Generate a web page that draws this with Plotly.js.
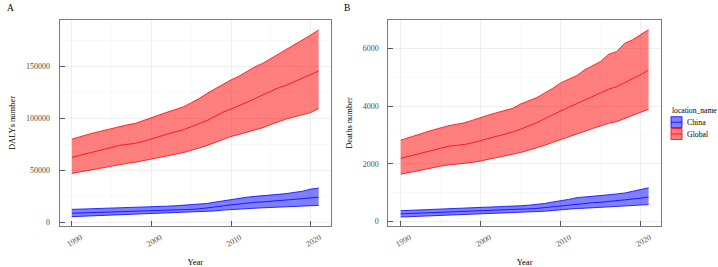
<!DOCTYPE html>
<html><head><meta charset="utf-8">
<script src="https://cdn.plot.ly/plotly-3.0.1.min.js"></script>
<style>body{margin:0;padding:0;background:#fff}#chart{width:718px;height:267px}</style>
</head><body><div id="chart"></div>
<script>
const years = [1990,1991,1992,1993,1994,1995,1996,1997,1998,1999,2000,2001,2002,2003,2004,2005,2006,2007,2008,2009,2010,2011,2012,2013,2014,2015,2016,2017,2018,2019,2020,2021];

// DALYs (panel A)
const globalDalyUpper = [80000,82500,84500,86500,88500,90500,92500,93800,95200,98000,101000,103500,106000,108500,111000,115000,119000,124000,128500,133000,137000,140500,145000,149500,153000,157500,162000,166000,170500,175500,180000,185000];
const globalDalyMean  = [62500,64500,66500,68500,70500,72500,74000,75000,76000,78000,80000,82500,85000,87000,89000,92000,95000,98000,102000,106000,109000,112000,115500,119000,122500,126000,129500,132000,135500,139000,142000,145500];
const globalDalyLower = [47000,48500,50000,51500,53000,54500,55800,56800,57800,59200,60800,62500,64000,65500,67000,69000,71500,74000,77000,80000,82500,84500,86500,88500,91000,94000,97000,99500,101500,103500,105500,109500];
const chinaDalyUpper  = [12500,12700,13000,13200,13400,13700,14000,14200,14500,14800,15100,15300,15600,16000,16500,17000,17500,18200,19500,20800,22000,23000,24200,25000,25500,26200,27000,27800,28800,30000,32000,33000];
const chinaDalyMean   = [8800,9000,9200,9400,9600,9800,10000,10200,10400,10600,10800,11000,11300,11600,12000,12500,13000,13700,14700,15800,16800,17700,18700,19300,19700,20200,20800,21400,22100,22800,23600,24200];
const chinaDalyLower  = [5500,5800,6100,6400,6600,6900,7200,7400,7700,7900,8100,8300,8500,8800,9100,9500,9900,10400,11000,11800,12400,12800,13200,13600,14000,14400,14700,15000,15300,15700,16000,16300];

// Deaths (panel B)
const globalDeathUpper = [2820,2900,2990,3080,3170,3250,3320,3370,3420,3510,3610,3690,3770,3850,3920,4070,4180,4290,4450,4610,4800,4920,5050,5250,5390,5540,5790,5880,6170,6290,6470,6640];
const globalDeathMean  = [2190,2260,2330,2400,2470,2550,2610,2640,2670,2730,2800,2880,2960,3030,3100,3200,3310,3420,3560,3700,3840,3960,4080,4210,4330,4460,4580,4670,4800,4940,5080,5250];
const globalDeathLower = [1640,1700,1760,1810,1860,1920,1960,1990,2010,2050,2100,2160,2220,2270,2320,2390,2470,2550,2640,2740,2840,2940,3040,3130,3220,3310,3400,3460,3570,3680,3780,3890];
const chinaDeathUpper  = [380,390,400,410,420,430,440,450,460,470,485,495,505,515,530,550,570,590,630,680,720,770,830,850,870,890,930,960,990,1050,1110,1170];
const chinaDeathMean   = [270,280,290,300,310,320,330,340,345,355,360,370,380,390,400,415,435,455,485,515,545,580,620,640,655,670,695,715,740,770,810,855];
const chinaDeathLower  = [160,170,180,190,200,210,220,230,240,248,255,265,275,285,295,310,320,335,360,385,415,435,455,465,480,495,510,525,545,560,575,590];

const locations = ["China","Global"];
const xTicks = [1990,2000,2010,2020];

const colors = {China:{line:"#0000FF", fill:"rgba(0,0,255,0.5)"}, Global:{line:"#FF0000", fill:"rgba(255,0,0,0.5)"}};
const serif = "Liberation Serif, Times New Roman, serif";

function ribbon(name, lower, mean, upper, xa, ya){
  const c = colors[name];
  return [
    {x:years, y:lower, type:"scatter", mode:"lines", line:{color:c.line, width:0.8}, xaxis:xa, yaxis:ya, showlegend:false, hoverinfo:"skip"},
    {x:years, y:upper, type:"scatter", mode:"lines", fill:"tonexty", fillcolor:c.fill, line:{color:c.line, width:0.8}, xaxis:xa, yaxis:ya, name:name, showlegend:false},
    {x:years, y:mean, type:"scatter", mode:"lines", line:{color:c.line, width:0.8}, xaxis:xa, yaxis:ya, showlegend:false}
  ];
}

const data = [
  ...ribbon("China", chinaDalyLower, chinaDalyMean, chinaDalyUpper, "x", "y"),
  ...ribbon("Global", globalDalyLower, globalDalyMean, globalDalyUpper, "x", "y"),
  ...ribbon("China", chinaDeathLower, chinaDeathMean, chinaDeathUpper, "x2", "y2"),
  ...ribbon("Global", globalDeathLower, globalDeathMean, globalDeathUpper, "x2", "y2")
];

const W = 718, H = 267;
const yDom = [1-226/H, 1-20/H];
const axisCommon = {
  showline:true, mirror:true, linecolor:"#7a7a7a", linewidth:1,
  ticks:"inside", ticklen:5, tickcolor:"#555555", tickwidth:1,
  showgrid:true, gridcolor:"#ebebeb", gridwidth:0.8, zeroline:false,
  automargin:false,
  tickfont:{family:serif, size:8, color:"#4d4d4d"}
};
function xAxis(dom, anchor){
  return Object.assign({}, axisCommon, {
    domain:dom, anchor:anchor, range:[1988.45, 2022.55], tickvals:xTicks, ticktext:xTicks.map(String), tickangle:-30,
    ticklabelshift:9, ticklabelstandoff:3,
    minor:{tickvals:[1995,2005,2015], showgrid:true, gridcolor:"#f5f5f5", gridwidth:0.6, ticks:""},
    title:{text:"Year", font:{family:serif, size:8.5, color:"#000"}, standoff:14}
  });
}
function yAxis(dom, anchor, range, dtick, titleText){
  return Object.assign({}, axisCommon, {
    domain:dom, anchor:anchor, range:range, dtick:dtick, tick0:0, tickformat:"d",
    ticklabelstandoff:7,
    minor:{dtick:dtick/2, showgrid:true, gridcolor:"#f5f5f5", gridwidth:0.6, ticks:""},
    title:{text:titleText, font:{family:serif, size:8.5, color:"#000"}, standoff:8}
  });
}

// manual legend (ggplot-style keys)
const legendItems = [{name:"China", y:122.2}, {name:"Global", y:134}];
const keyX0 = 671, keyX1 = 682, keyH = 11;
const shapes = [];
const annotations = [
  {text:"A", x:5/W, y:1-8/H, xref:"paper", yref:"paper", xanchor:"left", yanchor:"middle", showarrow:false, font:{family:serif, size:9.5, color:"#000"}},
  {text:"B", x:342/W, y:1-8/H, xref:"paper", yref:"paper", xanchor:"left", yanchor:"middle", showarrow:false, font:{family:serif, size:9.5, color:"#000"}},
  {text:"location_name", x:669.5/W, y:1-110/H, xref:"paper", yref:"paper", xanchor:"left", yanchor:"middle", showarrow:false, font:{family:serif, size:7.6, color:"#000"}}
];
legendItems.forEach(it => {
  const c = colors[it.name];
  shapes.push({type:"rect", xref:"paper", yref:"paper", x0:keyX0/W, x1:keyX1/W, y0:1-(it.y-keyH/2)/H, y1:1-(it.y+keyH/2)/H, fillcolor:c.fill, line:{color:c.line, width:0.8}});
  shapes.push({type:"line", xref:"paper", yref:"paper", x0:keyX0/W, x1:keyX1/W, y0:1-it.y/H, y1:1-it.y/H, line:{color:c.line, width:0.8}});
  annotations.push({text:it.name, x:685/W, y:1-it.y/H, xref:"paper", yref:"paper", xanchor:"left", yanchor:"middle", showarrow:false, font:{family:serif, size:7.8, color:"#000"}});
});

const layout = {
  width:W, height:H, margin:{l:0,r:0,t:0,b:0,pad:0},
  paper_bgcolor:"#fff", plot_bgcolor:"#fff",
  font:{family:serif, size:8, color:"#000"},
  showlegend:false,
  xaxis: xAxis([59.5/W, 331/W], "y"),
  yaxis: yAxis(yDom, "x", [-3475, 194500], 50000, "DALYs number"),
  xaxis2: xAxis([388.3/W, 661/W], "y2"),
  yaxis2: yAxis(yDom, "x2", [-150, 6975], 2000, "Deaths number"),
  shapes:shapes,
  annotations:annotations
};

Plotly.newPlot("chart", data, layout, {displayModeBar:false, staticPlot:true});
</script></body></html>
